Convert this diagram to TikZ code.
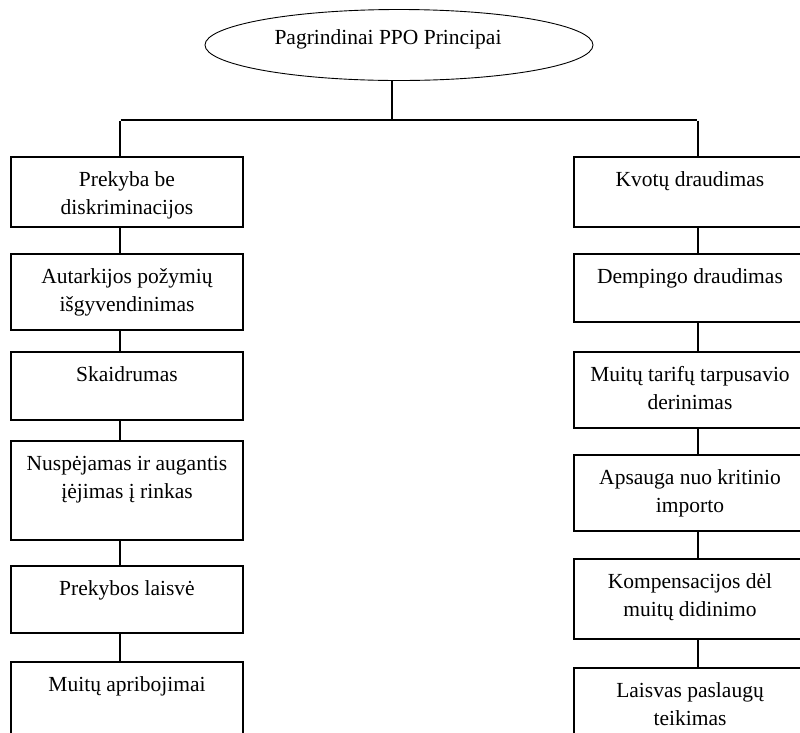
\documentclass[tikz,border=0pt]{standalone}
\usepackage{fontspec}
\setmainfont{Liberation Serif}
\usetikzlibrary{shapes.geometric}
\tikzstyle{elipsePrincipas} = [ellipse, minimum width=388pt, minimum height=71pt, inner sep=0, draw=black, line width=0.9pt]
\tikzstyle{dezute} = [rectangle, minimum width=232pt, inner sep=0, draw=black, line width=1.1pt]
\tikzstyle{tekstasDezutes} = [anchor=north, yshift=-10pt, inner sep=0, align=center]
\tikzstyle{linija} = [line width=1.1pt]
\tikzstyle{mazgasBeDydzio} = [inner sep=0]

\begin{document}
\begin{tikzpicture}[node distance=100pt, font=\fontsize{21.5}{28}\selectfont]

	% Remas
	\clip (-399pt,45pt) rectangle (401pt,-687pt);

	% Mazgai
	\node (pagr) [elipsePrincipas, label={[xshift=-11pt, yshift=6pt]center:Pagrindinai PPO Principai}] {};
	\node (sankirta) [mazgasBeDydzio, below of=pagr, xshift=-7pt, yshift=25pt] {};
	\node (kampasK) [mazgasBeDydzio, below of=pagr, xshift=-279pt, yshift=25pt] {};
	\node (kampasD) [mazgasBeDydzio, below of=pagr, xshift=299pt, yshift=25pt] {};

	% Kaire puse
	\node (k1) [dezute, minimum height=70pt, below of=pagr, xshift=-272pt, yshift=-47pt] {};
	\node (k2) [dezute, minimum height=76pt, below of=k1] {};
	\node (k3) [dezute, minimum height=68pt, below of=k2, yshift=6pt] {};
	\node (k4) [dezute, minimum height=99pt, below of=k3, yshift=-4.5pt] {};
	\node (k5) [dezute, minimum height=67pt, below of=k4, yshift=-9pt] {};
	\node (k6) [dezute, minimum height=72pt, below of=k5, yshift=1.5pt] {};

	% Desine puse
	\node (d1) [dezute, minimum height=70pt, below of=pagr, xshift=291pt, yshift=-47pt] {};
	\node (d2) [dezute, minimum height=68pt, below of=d1, yshift=4pt] {};
	\node (d3) [dezute, minimum height=76pt, below of=d2, yshift=-2pt] {};
	\node (d4) [dezute, minimum height=76pt, below of=d3, yshift=-3pt] {};
	\node (d5) [dezute, minimum height=80pt, below of=d4, yshift=-6pt] {};
	\node (d6) [dezute, minimum height=76pt, below of=d5, yshift=-7pt] {};

	% Tekstai dezutese
	\node (tk1) [tekstasDezutes] at (k1.north) {\strut Prekyba be\\diskriminacijos};
	\node (tk2) [tekstasDezutes] at (k2.north) {\strut Autarkijos požymių\\išgyvendinimas};
	\node (tk3) [tekstasDezutes] at (k3.north) {\strut Skaidrumas};
	\node (tk4) [tekstasDezutes] at (k4.north) {\strut Nuspėjamas ir augantis\\įėjimas į rinkas};
	\node (tk5) [tekstasDezutes] at (k5.north) {\strut Prekybos laisvė};
	\node (tk6) [tekstasDezutes] at (k6.north) {\strut Muitų apribojimai};

	\node (td1) [tekstasDezutes] at (d1.north) {\strut Kvotų draudimas};
	\node (td2) [tekstasDezutes] at (d2.north) {\strut Dempingo draudimas};
	\node (td3) [tekstasDezutes] at (d3.north) {\strut Muitų tarifų tarpusavio\\derinimas};
	\node (td4) [tekstasDezutes] at (d4.north) {\strut Apsauga nuo kritinio\\importo};
	\node (td5) [tekstasDezutes] at (d5.north) {\strut Kompensacijos dėl\\muitų didinimo};
	\node (td6) [tekstasDezutes] at (d6.north) {\strut Laisvas paslaugų\\teikimas};

	% Jungtys
	\draw [linija] (pagr.south -| sankirta) -- (sankirta);
	\draw [linija] (kampasK) -- (kampasD);
	\draw [linija] (kampasK) -- (kampasK |- k1.north);
	\draw [linija] (kampasD) -- (kampasD |- d1.north);

	\draw [linija] (k1.south -| kampasK) -- (k2.north -| kampasK);
	\draw [linija] (k2.south -| kampasK) -- (k3.north -| kampasK);
	\draw [linija] (k3.south -| kampasK) -- (k4.north -| kampasK);
	\draw [linija] (k4.south -| kampasK) -- (k5.north -| kampasK);
	\draw [linija] (k5.south -| kampasK) -- (k6.north -| kampasK);

	\draw [linija] (d1.south -| kampasD) -- (d2.north -| kampasD);
	\draw [linija] (d2.south -| kampasD) -- (d3.north -| kampasD);
	\draw [linija] (d3.south -| kampasD) -- (d4.north -| kampasD);
	\draw [linija] (d4.south -| kampasD) -- (d5.north -| kampasD);
	\draw [linija] (d5.south -| kampasD) -- (d6.north -| kampasD);

\end{tikzpicture}
\end{document}
